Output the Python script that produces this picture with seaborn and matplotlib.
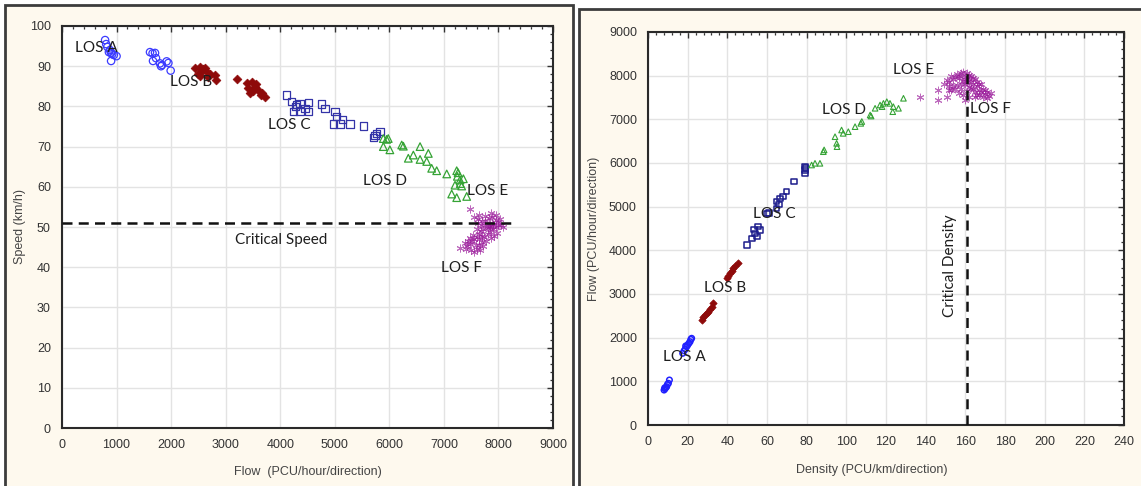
import matplotlib
matplotlib.use("Agg")
import matplotlib.pyplot as plt
from matplotlib.patches import Rectangle
from matplotlib.ticker import MultipleLocator, AutoMinorLocator
import seaborn as sns

# ---- speed-flow panel (left) ----
a_flow_l = [790, 810, 830, 880, 900, 950, 1000, 900, 860, 920,
            1613, 1660, 1705, 1668, 1723, 1796, 1833, 1815, 1918, 1950, 1992]
a_speed_l = [96.5, 95.5, 94.8, 94.0, 93.3, 92.8, 92.5, 91.3, 93.5, 93.0,
             93.5, 93.2, 93.3, 91.3, 92.0, 90.7, 90.3, 90.0, 91.2, 90.8, 88.9]

b_flow_l = [2438, 2530, 2590, 2500, 2650, 2530, 2708, 2805, 2823, 2670, 2560, 2620,
            3202, 3385, 3477, 3446, 3538, 3600, 3660, 3721, 3508, 3416, 3560, 3640]
b_speed_l = [89.5, 89.8, 89.2, 88.0, 88.5, 87.5, 88.0, 87.7, 86.5, 87.3, 88.8, 89.6,
             86.9, 85.7, 86.0, 83.3, 84.8, 84.0, 83.3, 82.4, 83.9, 84.5, 85.5, 82.8]

c_flow_l = [4118, 4210, 4302, 4362, 4515, 4240, 4362, 4515, 4454, 4280, 4760, 4820,
            5004, 5035, 4974, 5096, 5143, 5280, 5524, 5707, 5768, 5830, 5740]
c_speed_l = [82.8, 81.2, 80.5, 80.8, 80.9, 78.7, 78.7, 78.7, 79.5, 80.0, 80.6, 79.5,
             78.7, 77.5, 75.6, 75.6, 76.7, 75.6, 75.1, 72.3, 73.3, 73.7, 72.8]

d_flow_l = [5890, 5950, 5980, 5890, 6010, 6227, 6257, 6563, 6715, 6440, 6348, 6563, 6685,
            6776, 6868, 7052, 7235, 7247, 7296, 7357, 7204, 7326, 7143, 7235, 7418, 7260, 7300]
d_speed_l = [72.0, 71.8, 72.0, 70.0, 69.2, 70.4, 70.1, 70.0, 68.3, 67.9, 67.1, 66.8, 66.3,
             64.6, 64.0, 63.2, 64.0, 62.6, 61.7, 62.0, 60.4, 60.2, 58.2, 57.3, 57.6, 63.5, 60.8]

ef_flow_l = [7478, 7296, 7560, 7620, 7700, 7750, 7820, 7880, 7950, 8000, 8050, 8080, 7900,
             7850, 7800, 7760, 7720, 7680, 7650, 7600, 7560, 7520, 7480, 7450, 7420, 7400,
             7380, 7500, 7550, 7600, 7640, 7700, 7740, 7800, 7840, 7900, 7950, 8000, 7980,
             7920, 7860, 7780, 7720, 7660, 7580, 7530, 7600, 7680, 7620, 7760, 7840, 7700,
             7640, 7470, 7820, 7880, 8030, 7960, 7860, 7650]
ef_speed_l = [54.6, 44.8, 52.5, 52.0, 51.5, 52.8, 52.2, 52.6, 51.8, 51.2, 50.6, 50.0, 50.8,
              50.2, 49.8, 50.5, 49.6, 48.9, 48.2, 47.6, 47.0, 46.4, 45.8, 46.6, 45.2, 44.6,
              46.0, 44.3, 43.8, 44.5, 45.4, 46.2, 47.4, 48.2, 48.8, 49.4, 49.9, 50.4, 48.6,
              47.8, 47.2, 46.5, 45.3, 44.2, 45.6, 48.0, 49.5, 50.4, 51.0, 51.4, 51.0, 47.8,
              46.9, 47.3, 50.0, 50.2, 52.0, 53.0, 53.6, 53.0]

critical_speed = 51
critical_speed_end = 8340

# ---- flow-density panel (right) ----
a_dens_r = [8.1, 8.6, 9.0, 9.4, 9.8, 10.3, 10.8, 8.4,
            17.5, 18.2, 18.8, 19.5, 20.0, 20.6, 21.2, 22.0, 21.6, 19.0]
a_flow_r = [801, 830, 860, 877, 930, 955, 1030, 850,
            1642, 1700, 1740, 1793, 1830, 1870, 1908, 1985, 1960, 1810]

b_dens_r = [27.1, 27.8, 28.7, 29.5, 30.4, 31.2, 32.1, 32.9,
            39.7, 40.5, 41.3, 42.2, 43.0, 44.0, 45.5]
b_flow_r = [2404, 2470, 2519, 2560, 2595, 2650, 2710, 2787,
            3359, 3420, 3474, 3530, 3588, 3650, 3717]

c_dens_r = [49.8, 52.3, 54.0, 55.6, 56.5, 55.0, 53.5, 59.9, 61.0, 64.9, 66.6, 68.2, 69.9,
            64.9, 66.0, 73.6, 79.2, 79.2, 79.2, 79.5]
c_flow_r = [4122, 4275, 4390, 4541, 4466, 4320, 4480, 4848, 4860, 5114, 5191, 5230, 5343,
            4962, 5050, 5572, 5840, 5763, 5916, 5880]

d_dens_r = [82.5, 84.2, 86.7, 88.4, 88.8, 94.3, 95.1, 95.3, 97.6, 98.4, 101.0, 104.4, 107.3,
            107.8, 112.0, 114.5, 117.0, 118.0, 118.7, 120.4, 122.0, 123.7, 123.4, 126.3, 128.8, 112.5]
d_flow_r = [5954, 5993, 5993, 6259, 6300, 6602, 6450, 6374, 6755, 6679, 6717, 6832, 6908,
            6950, 7099, 7253, 7328, 7290, 7366, 7404, 7366, 7290, 7175, 7253, 7482, 7075]

ef_dens_r = [137.2, 146.4, 150.6, 151.6, 146.0, 152, 154, 155, 156, 157, 158, 159, 160, 160,
             161, 162, 162, 163, 163, 164, 164, 165, 165, 166, 166, 167, 167, 168, 168, 169,
             170, 170, 171, 172, 173, 158, 157, 159, 161, 162, 160, 156, 155, 154, 153, 158,
             161, 163, 165, 166, 164, 162, 159, 157, 153, 151, 149, 152, 160, 167, 169, 171]
ef_flow_r = [7518, 7670, 7518, 7680, 7450, 7850, 7920, 7980, 8030, 7950, 8050, 7880, 7980, 7800,
             8060, 7920, 7750, 7860, 8000, 7700, 7800, 7920, 7620, 7760, 7850, 7680, 7560, 7800,
             7620, 7700, 7580, 7680, 7620, 7540, 7600, 7700, 7600, 7560, 7650, 7500, 7450, 7780,
             7700, 7760, 7680, 7820, 7850, 7720, 7500, 7560, 7950, 8020, 8080, 8000, 7990, 7900,
             7800, 7760, 7920, 7820, 7520, 7480]

critical_density = 161
critical_density_top = 8050

sns.set_style("whitegrid")
plt.rcParams['font.family'] = ['Liberation Sans', 'DejaVu Sans']

W, H = 1141, 486
fig = plt.figure(figsize=(W / 100, H / 100), dpi=100, facecolor='white')

cream = '#FEF9EE'
fig.add_artist(Rectangle((5 / W, -0.05), 568 / W, 1.05 - 5 / H, transform=fig.transFigure,
                         facecolor=cream, edgecolor='#3c3c3c', lw=2, zorder=-5))
fig.add_artist(Rectangle((579 / W, -0.05), 0.6, 1.05 - 9 / H, transform=fig.transFigure,
                         facecolor=cream, edgecolor='#3c3c3c', lw=2, zorder=-5))

ax1 = fig.add_axes([62 / W, 1 - 428 / H, 491 / W, 402 / H])
ax2 = fig.add_axes([648 / W, 1 - 425 / H, 476 / W, 393 / H])

blue_c = '#3b3bff'
red_c = '#8e0a0a'
green_c = '#35a335'
purple_c = '#9a1a9a'


def open_pts(ax, x, y, marker, col, s, lw=0.9):
    sns.scatterplot(x=x, y=y, ax=ax, marker=marker, s=s, color=col,
                    facecolor='none', edgecolor=col, linewidth=lw, zorder=3)


def filled_pts(ax, x, y, marker, col, s):
    sns.scatterplot(x=x, y=y, ax=ax, marker=marker, s=s, color=col,
                    edgecolor=col, linewidth=0.5, zorder=3)


def star_pts(ax, x, y, col, s):
    sns.scatterplot(x=x, y=y, ax=ax, marker=(6, 2, 0), s=s, color=col,
                    edgecolor=col, linewidth=0.7, alpha=0.65, zorder=3)


# left panel
open_pts(ax1, a_flow_l, a_speed_l, 'o', blue_c, 28)
filled_pts(ax1, b_flow_l, b_speed_l, 'D', red_c, 20)
open_pts(ax1, c_flow_l, c_speed_l, 's', '#3434a8', 28)
open_pts(ax1, d_flow_l, d_speed_l, '^', green_c, 30)
star_pts(ax1, ef_flow_l, ef_speed_l, purple_c, 26)
ax1.plot([0, critical_speed_end], [critical_speed, critical_speed], ls=(0, (4, 2.5)),
         color='#111111', lw=1.8, zorder=4)

# right panel
open_pts(ax2, a_dens_r, a_flow_r, 'o', '#2020ff', 16, lw=1.1)
filled_pts(ax2, b_dens_r, b_flow_r, 'D', red_c, 14)
open_pts(ax2, c_dens_r, c_flow_r, 's', '#1c1c8c', 16, lw=1.1)
open_pts(ax2, d_dens_r, d_flow_r, '^', green_c, 16, lw=0.8)
star_pts(ax2, ef_dens_r, ef_flow_r, purple_c, 24)
ax2.plot([critical_density, critical_density], [0, critical_density_top], ls=(0, (4, 2.5)),
         color='#111111', lw=1.8, zorder=4)

lab_kw = dict(fontsize=11, color='#1e1e1e', family=['Lato', 'DejaVu Sans'], zorder=5)
ax1.text(240, 94.5, 'LOS A', va='center', **lab_kw)
ax1.text(1980, 86, 'LOS B', va='center', **lab_kw)
ax1.text(3776, 75.4, 'LOS C', va='center', **lab_kw)
ax1.text(5517, 61.4, 'LOS D', va='center', **lab_kw)
ax1.text(7424, 59, 'LOS E', va='center', **lab_kw)
ax1.text(6947, 39.8, 'LOS F', va='center', **lab_kw)
ax1.text(3171, 46.8, 'Critical Speed', va='center', **lab_kw)

ax2.text(7.6, 1557, 'LOS A', va='center', **lab_kw)
ax2.text(28.2, 3137, 'LOS B', va='center', **lab_kw)
ax2.text(53, 4830, 'LOS C', va='center', **lab_kw)
ax2.text(87.7, 7213, 'LOS D', va='center', **lab_kw)
ax2.text(123.5, 8130, 'LOS E', va='center', **lab_kw)
ax2.text(162.4, 7236, 'LOS F', va='center', **lab_kw)
ax2.text(152.5, 3650, 'Critical Density', rotation=90, ha='center', va='center', **lab_kw)

ax1.set_xlim(0, 9000)
ax1.set_ylim(0, 100)
ax1.xaxis.set_major_locator(MultipleLocator(1000))
ax1.yaxis.set_major_locator(MultipleLocator(10))
ax2.set_xlim(0, 240)
ax2.set_ylim(0, 9000)
ax2.xaxis.set_major_locator(MultipleLocator(20))
ax2.yaxis.set_major_locator(MultipleLocator(1000))

for ax in (ax1, ax2):
    ax.set_facecolor('white')
    ax.grid(True, color='#e3e3e3', lw=1)
    ax.xaxis.set_minor_locator(AutoMinorLocator(5))
    ax.yaxis.set_minor_locator(AutoMinorLocator(5))
    ax.tick_params(which='both', direction='in', top=True, right=True,
                   color='#333333', labelsize=9, labelcolor='#333333')
    ax.tick_params(which='major', length=4, width=1, pad=8)
    ax.tick_params(which='minor', length=2.5, width=0.9)
    for sp in ax.spines.values():
        sp.set_color('#2a2a2a')
        sp.set_linewidth(1.5)

ax1.set_xlabel('Flow  (PCU/hour/direction)', fontsize=9, color='#444444')
ax1.set_ylabel('Speed (km/h)', fontsize=9, color='#444444')
ax2.set_xlabel('Density (PCU/km/direction)', fontsize=9, color='#444444')
ax2.set_ylabel('Flow (PCU/hour/direction)', fontsize=9, color='#444444')
ax1.xaxis.set_label_coords(0.5, -0.109)
ax1.yaxis.set_label_coords(-0.085, 0.5)
ax2.xaxis.set_label_coords(0.47, -0.115)
ax2.yaxis.set_label_coords(-0.113, 0.5)
for ax in (ax1, ax2):
    ax.xaxis.label.set_va('center')
    ax.yaxis.label.set_va('center')

fig.savefig('out.png', dpi=100)
